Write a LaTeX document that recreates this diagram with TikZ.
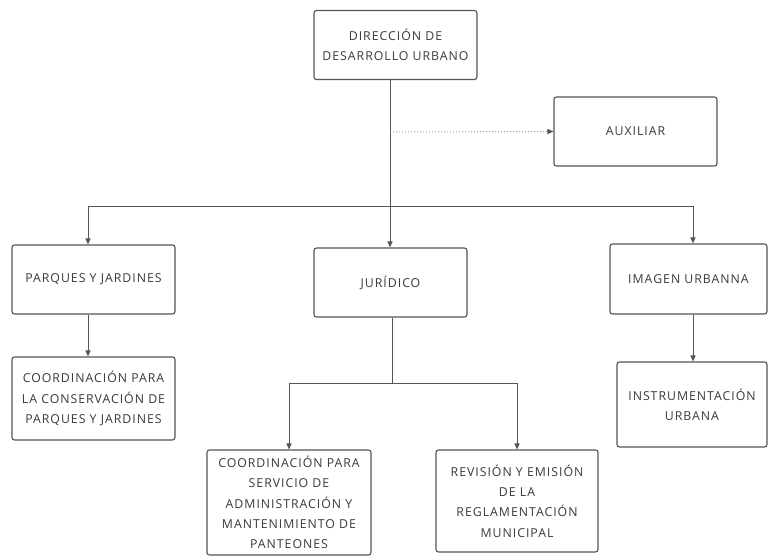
\documentclass[tikz,border=0pt]{standalone}
\usepackage{fontspec}
\setmainfont[LetterSpace=8]{Open Sans}
\usetikzlibrary{arrows.meta,calc}
\definecolor{txt}{HTML}{3A3A3A}
\definecolor{ln}{HTML}{555555}
\tikzset{
  box/.style={draw=ln, line width=1.1pt, rounded corners=2.5pt, fill=white, align=center,
    text=txt, font=\fontsize{12.3}{20.3}\selectfont, inner sep=1pt},
  conn/.style={draw=ln, line width=1pt},
  arr/.style={conn, -{Triangle[length=6pt,width=5pt]}},
  dot/.style={draw=ln!55, line width=1pt, dotted, -{Triangle[length=6pt,width=5pt,fill=ln,color=ln]}}
}
\begin{document}
\begin{tikzpicture}[x=1pt,y=-1pt]
\path[use as bounding box, fill=white] (0,0) rectangle (769,556);
\node[box, minimum width=163, minimum height=69] (top) at (395.5,45) {DIRECCIÓN DE\\DESARROLLO URBANO};
\node[box, minimum width=163, minimum height=69] (aux) at (635.5,131.5) {AUXILIAR};
\node[box, minimum width=163, minimum height=69] (parq) at (93.5,279.5) {PARQUES Y JARDINES};
\node[box, minimum width=153, minimum height=69] (jur) at (390.5,282.5) {JURÍDICO};
\node[box, minimum width=157, minimum height=70] (img) at (688.5,279) {IMAGEN URBANNA};
\node[box, minimum width=163, minimum height=83] (coordp) at (93.5,398.5) {COORDINACIÓN PARA\\LA CONSERVACIÓN DE\\PARQUES Y JARDINES};
\node[box, minimum width=150, minimum height=85] (instr) at (692,404.5) {INSTRUMENTACIÓN\\URBANA};
\node[box, minimum width=164, minimum height=105] (coords) at (289,502.5) {COORDINACIÓN PARA\\SERVICIO DE\\ADMINISTRACIÓN Y\\MANTENIMIENTO DE\\PANTEONES};
\node[box, minimum width=162, minimum height=102] (rev) at (517,501) {REVISIÓN Y EMISIÓN\\DE LA\\REGLAMENTACIÓN\\MUNICIPAL};
\coordinate (j1) at (390,207);
\coordinate (jd) at (390,132);
\coordinate (xa) at (88,0);
\coordinate (xc) at (693,0);
\coordinate (j2) at (392,383);
\draw[conn] (top.south -| j1) -- (j1);
\draw[dot] (jd) -- (aux.west);
\draw[arr] (j1) -| (parq.north -| xa);
\draw[arr] (j1) -- (jur.north -| j1);
\draw[arr] (j1) -| (img.north -| xc);
\draw[arr] (parq.south -| xa) -- (coordp.north -| xa);
\draw[arr] (img.south -| xc) -- (instr.north -| xc);
\draw[conn] (jur.south -| j2) -- (j2);
\draw[arr] (j2) -| (coords.north);
\draw[arr] (j2) -| (rev.north);
\end{tikzpicture}
\end{document}
